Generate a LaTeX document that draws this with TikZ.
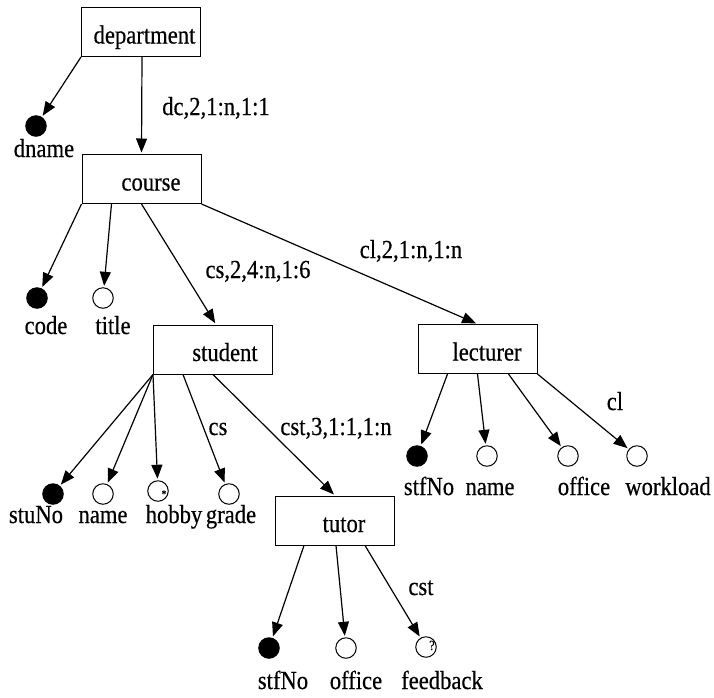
\documentclass[tikz,border=0pt]{standalone}
\usepackage{fontspec}
\setmainfont{Liberation Serif}[FakeStretch=0.87,FakeBold=0.4]
\usetikzlibrary{arrows.meta,calc}

\begin{document}
\begin{tikzpicture}[x=1pt,y=-1pt,
  every node/.style={font=\fontsize{26}{30}\selectfont},
  ent/.style={draw, line width=1pt, minimum width=119pt, minimum height=49pt,
    inner sep=0pt, text height=23pt, text depth=0pt},
  keyatt/.style={circle, draw, fill=black, line width=1pt, minimum size=20.5pt, inner sep=0pt},
  att/.style={circle, draw, fill=white, line width=1pt, minimum size=20.5pt, inner sep=0pt},
  lab/.style={anchor=base, inner sep=0pt},
  tag/.style={anchor=base, inner sep=0pt, text height=7pt, text depth=0pt},
  arr/.style={-{Triangle[length=14pt,width=11pt]}, line width=1.2pt, shorten >=1.5pt}]

\useasboundingbox (0,0) rectangle (714,697);

% entity boxes
\node[ent] (dept)     at (141,32)    {\hspace*{7pt}department};
\node[ent] (course)   at (141.5,179) {\hspace*{19pt}course};
\node[ent] (student)  at (213,349.5) {\hspace*{24pt}student};
\node[ent] (lecturer) at (477.5,349) {\hspace*{19pt}lecturer};
\node[ent] (tutor)    at (335,520.5) {\hspace*{18pt}tutor};

% attribute circles
\node[keyatt] (dname)   at (36,126) {};
\node[keyatt] (code)    at (37,298) {};
\node[att]    (title)   at (103,298) {};
\node[keyatt] (stuNo)   at (53,494) {};
\node[att]    (sname)   at (103,494) {};
\node[att]    (hobby)   at (158,491) {};
\node[att]    (grade)   at (229,494) {};
\node[keyatt] (lstfNo)  at (417,456) {};
\node[att]    (lname)   at (487,456) {};
\node[att]    (loffice) at (568,456) {};
\node[att]    (workload) at (637,456) {};
\node[keyatt] (tstfNo)  at (269,648) {};
\node[att]    (toffice) at (346,648) {};
\node[att]    (feedback) at (426,647) {};

% small signs inside circles
\node[tag, font=\fontsize{11}{11}\selectfont] (hobbysign) at (164,497.5) {*};
\node[tag, font=\fontsize{14}{14}\selectfont] (feedbacksign) at (432,650) {?};

% attribute names
\node[lab] (dnameT)    at (44,157)  {dname};
\node[lab] (codeT)     at (46,334)  {code};
\node[lab] (titleT)    at (113,334) {title};
\node[lab] (stuNoT)    at (36,523)  {stuNo};
\node[lab] (snameT)    at (103,523) {name};
\node[lab] (hobbyT)    at (174,523) {hobby};
\node[lab] (gradeT)    at (231,523) {grade};
\node[lab] (lstfNoT)   at (429,495) {stfNo};
\node[lab] (lnameT)    at (490,495) {name};
\node[lab] (lofficeT)  at (584,495) {office};
\node[lab] (workloadT) at (668,495) {workload};
\node[lab] (tstfNoT)   at (283,689) {stfNo};
\node[lab] (tofficeT)  at (356,689) {office};
\node[lab] (feedbackT) at (442,689) {feedback};

% relationship labels
\node[lab] (dcL)   at (216,115) {dc,2,1:n,1:1};
\node[lab] (csL)   at (258,278) {cs,2,4:n,1:6};
\node[lab] (clL)   at (411,258) {cl,2,1:n,1:n};
\node[lab] (clA)   at (615,410) {cl};
\node[lab] (csA)   at (218,435) {cs};
\node[lab] (cstL)  at (336,435) {cst,3,1:1,1:n};
\node[lab] (cstA)  at (421,595) {cst};

% connectors
\draw[arr] (dept.south west) -- (dname);
\draw[arr] ([xshift=1pt]dept.south) -- (course.north);

\draw[arr] (course.south west) -- (code);
\draw[arr] ([xshift=30pt]course.south west) -- (title);
\draw[arr] ([xshift=60pt]course.south west) -- ([xshift=63pt]student.north west);
\draw[arr] (course.south east) -- (lecturer.north);

\draw[arr] (student.south west) -- (stuNo);
\draw[arr] (student.south west) -- (sname);
\draw[arr] (student.south west) -- (hobby);
\draw[arr] ([xshift=30pt]student.south west) -- (grade);
\draw[arr] ([xshift=60pt]student.south west) -- (tutor.north);

\draw[arr] ([xshift=30pt]lecturer.south west) -- (lstfNo);
\draw[arr] (lecturer.south) -- (lname);
\draw[arr] ([xshift=91pt]lecturer.south west) -- (loffice);
\draw[arr] (lecturer.south east) -- (workload);

\draw[arr] ([xshift=29pt]tutor.south west) -- (tstfNo);
\draw[arr] ([xshift=61pt]tutor.south west) -- (toffice);
\draw[arr] ([xshift=90pt]tutor.south west) -- (feedback);
\end{tikzpicture}
\end{document}
